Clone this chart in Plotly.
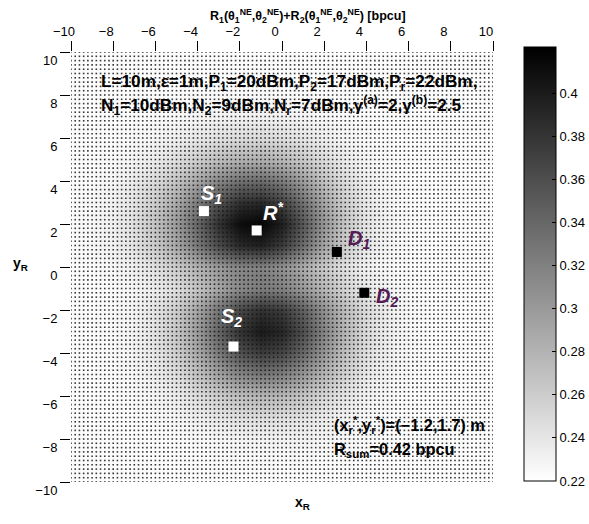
import numpy as np
import plotly.graph_objects as go

# ---- data ----
x_grid = list(range(-10, 11))
y_grid_top_down = list(range(10, -11, -1))
# sum rate values, rows from y=10 (top) to y=-10 (bottom), columns x=-10..10
rows_top_down = [
    [.222]*21,
    [.222]*8 + [.223, .223, .223] + [.222]*10,
    [.222]*4 + [.223, .223, .224, .224, .224, .225, .224, .224, .223, .223] + [.222]*7,
    [.222, .222, .222, .223, .224, .226, .228, .230, .231, .231, .230, .228, .226, .224, .223] + [.222]*6,
    [.222, .223, .223, .225, .228, .233, .238, .244, .248, .249, .246, .240, .233, .228, .225, .223] + [.222]*5,
    [.222, .223, .225, .229, .236, .247, .260, .273, .282, .284, .277, .263, .248, .236, .228, .224, .223] + [.222]*4,
    [.223, .224, .228, .236, .249, .268, .292, .316, .333, .337, .324, .298, .269, .247, .233, .226, .223] + [.222]*4,
    [.223, .226, .231, .242, .261, .290, .325, .360, .385, .391, .372, .333, .292, .259, .238, .228, .224, .223] + [.222]*3,
    [.223, .226, .232, .245, .268, .301, .343, .384, .413, .420, .398, .353, .304, .265, .241, .229, .224, .223] + [.222]*3,
    [.223, .226, .231, .242, .262, .291, .327, .363, .389, .395, .375, .336, .293, .260, .239, .228, .224] + [.222]*4,
    [.223, .224, .227, .233, .244, .261, .281, .301, .316, .319, .308, .286, .262, .243, .231, .225, .223] + [.222]*4,
    [.222, .222, .224, .227, .234, .247, .267, .292, .314, .324, .320, .301, .277, .254, .238, .229, .225, .223] + [.222]*3,
    [.222, .223, .225, .229, .241, .261, .293, .331, .366, .383, .375, .346, .308, .273, .248, .233, .226, .223] + [.222]*3,
    [.222, .223, .225, .230, .243, .266, .301, .344, .382, .401, .392, .360, .318, .278, .250, .234, .226, .223] + [.222]*3,
    [.222, .223, .224, .229, .239, .259, .289, .326, .358, .374, .367, .340, .304, .270, .246, .232, .226, .223] + [.222]*3,
    [.222, .222, .224, .227, .234, .247, .268, .293, .315, .326, .321, .302, .278, .255, .238, .229, .225, .223] + [.222]*3,
    [.222, .222, .223, .225, .228, .236, .247, .260, .272, .278, .276, .266, .252, .240, .231, .226, .223] + [.222]*4,
    [.222, .222, .222, .223, .225, .228, .233, .239, .244, .246, .245, .241, .235, .230, .226, .224, .223] + [.222]*4,
    [.222]*5 + [.223, .224, .226, .228, .230, .230, .230, .228, .226, .225, .223] + [.222]*5,
    [.222]*5 + [.223, .223, .224, .224, .224, .224, .224, .223, .223] + [.222]*7,
    [.222]*21,
]
z_rows = rows_top_down[::-1]
y_grid = y_grid_top_down[::-1]

node_names = ["S1", "R*", "S2", "D1", "D2"]
node_x = [-3.7, -1.2, -2.3, 2.6, 3.9]
node_y = [2.6, 1.7, -3.7, 0.7, -1.2]
node_fill = ["white", "white", "white", "black", "black"]

x_ticks = list(range(-10, 11, 2))
y_ticks = list(range(-10, 11, 2))
cbar_ticks = [0.22, 0.24, 0.26, 0.28, 0.30, 0.32, 0.34, 0.36, 0.38, 0.40]
cbar_min, cbar_max = 0.22, 0.4215

FONT = "Liberation Sans, Arial, sans-serif"

fig = go.Figure()

fig.add_trace(go.Heatmap(
    x=x_grid, y=y_grid, z=z_rows,
    zmin=cbar_min, zmax=cbar_max, zsmooth="best",
    colorscale=[[0, "white"], [1, "black"]],
    hoverinfo="skip",
    colorbar=dict(
        x=(524 - 71) / 422, xanchor="left", xpad=0,
        y=(482 - 264) / 430, yanchor="middle", ypad=0,
        len=434, lenmode="pixels",
        thickness=32, thicknessmode="pixels",
        outlinewidth=1, outlinecolor="black",
        tickvals=cbar_ticks, ticktext=[f"{v:g}" for v in cbar_ticks],
        ticks="inside", ticklen=4, tickcolor="black",
        tickfont=dict(family=FONT, size=13, color="black"),
    ),
))

# mesh dots (surface grid vertices)
mesh = np.linspace(-10, 10, 101)
mx, my = np.meshgrid(mesh, mesh)
fig.add_trace(go.Scatter(
    x=mx.ravel(), y=my.ravel(), mode="markers",
    marker=dict(symbol="square", size=1.6, color="rgba(20,20,20,0.85)", line=dict(width=0)),
    hoverinfo="skip", showlegend=False,
))

# nodes
fig.add_trace(go.Scatter(
    x=node_x, y=node_y, mode="markers",
    marker=dict(symbol="square", size=10, color=node_fill, line=dict(width=0)),
    hoverinfo="skip", showlegend=False,
))

ann = []
def lab(text, x, y, color):
    ann.append(dict(x=x, y=y, xref="x", yref="y", text=text, showarrow=False,
                    xanchor="left", yanchor="top",
                    font=dict(family=FONT, size=20, color=color)))

purple = "#561a56"
lab("<b><i>S<sub>1</sub></i></b>", -3.95, 4.05, "white")
lab("<b><i>R<sup>*</sup></i></b>", -1.0, 3.25, "white")
lab("<b><i>S<sub>2</sub></i></b>", -3.0, -1.68, "white")
lab("<b><i>D<sub>1</sub></i></b>", 3.05, 1.95, purple)
lab("<b><i>D<sub>2</sub></i></b>", 4.35, -0.75, purple)

def ptext(text, px, py, size=17, anchor="left"):
    ann.append(dict(x=(px - 71) / 422, y=(482 - py) / 430, xref="paper", yref="paper",
                    text=text, showarrow=False, xanchor=anchor, yanchor="middle",
                    font=dict(family=FONT, size=size, color="black")))

ptext("<b>L=10m,ε=1m,P<sub>1</sub>=20dBm,P<sub>2</sub>=17dBm,P<sub>r</sub>=22dBm,</b>", 99, 83, 17.2)
ptext("<b>N<sub>1</sub>=10dBm,N<sub>2</sub>=9dBm,N<sub>r</sub>=7dBm,γ<sup>(a)</sup>=2,γ<sup>(b)</sup>=2.5</b>", 99, 105, 17.2)
ptext("<b>(x<sub>r</sub><sup>*</sup>,y<sub>r</sub><sup>*</sup>)=(−1.2,1.7) m</b>", 332, 425, 16.4)
ptext("<b>R<sub>sum</sub>=0.42 bpcu</b>", 332, 450, 16.4)
ptext("<b>R<sub>1</sub>(θ<sub>1</sub><sup>NE</sup>,θ<sub>2</sub><sup>NE</sup>)+R<sub>2</sub>(θ<sub>1</sub><sup>NE</sup>,θ<sub>2</sub><sup>NE</sup>) [bpcu]</b>", 308, 16, 12.5, "center")
ptext("<b>x<sub>R</sub></b>", 302, 503, 14, "center")
ptext("<b>y<sub>R</sub></b>", 20, 264, 14, "center")

fig.update_layout(
    width=589, height=524,
    margin=dict(l=71, r=96, t=52, b=42, autoexpand=False),
    paper_bgcolor="white", plot_bgcolor="white",
    showlegend=False,
    annotations=ann,
    font=dict(family=FONT, size=13, color="black"),
    xaxis=dict(range=[-10, 10], side="top", tickvals=x_ticks,
               ticktext=[str(v).replace("-", "−") for v in x_ticks],
               ticks="outside", ticklen=10, tickcolor="black", tickwidth=1,
               showline=False, showgrid=False, zeroline=False,
               ticklabelshift=-7, automargin=False,
               tickfont=dict(family=FONT, size=13, color="black")),
    yaxis=dict(range=[-10, 10], tickvals=y_ticks,
               ticktext=[str(v).replace("-", "−") for v in y_ticks],
               ticks="outside", ticklen=10, tickcolor="black", tickwidth=1,
               showline=False, showgrid=False, zeroline=False,
               ticklabelshift=8, automargin=False,
               tickfont=dict(family=FONT, size=13, color="black")),
)

fig.write_html("out.html", config={"displayModeBar": False},
               post_script="document.body.style.margin='0px';")
